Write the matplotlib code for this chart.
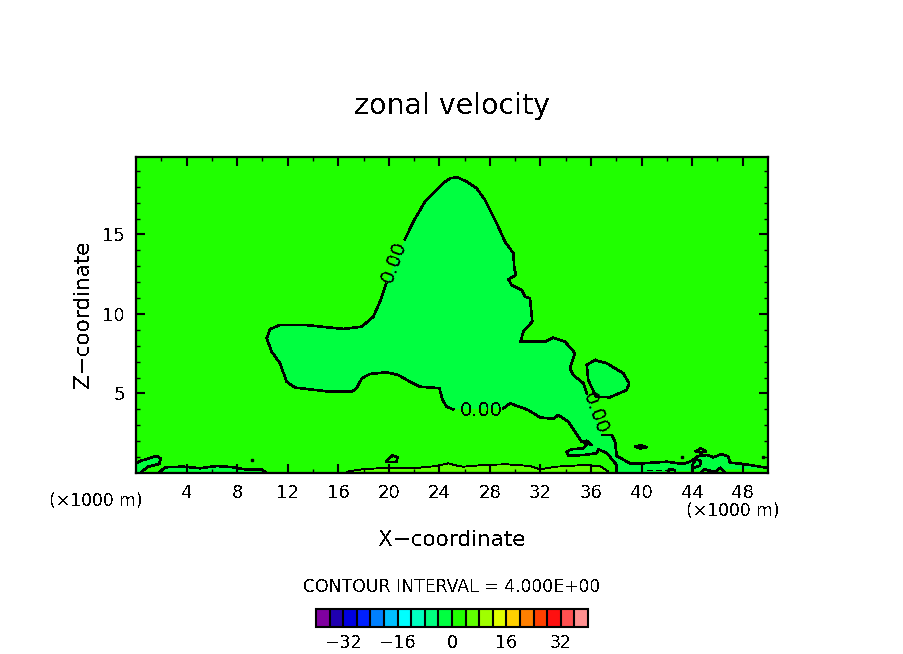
#!/usr/bin/env python3

import numpy as np
import matplotlib
matplotlib.use("Agg")
import matplotlib.pyplot as plt
from matplotlib.cm import ScalarMappable
from matplotlib.colors import BoundaryNorm, ListedColormap

# contour levels and colours of the shaded field
levels = np.arange(-40, 41, 4)
colorbar_ticks = [-32, -16, 0, 16, 32]
colorbar_labels = ['\u221232', '\u221216', '0', '16', '32']
colors = ['#8000a0', '#2000b0', '#0000e0', '#0020ff', '#0080ff', '#00c0ff', '#00ffff',
          '#00ffc0', '#00ff80', '#00ff40', '#20ff00', '#60ff00', '#a0ff00', '#e0ff00',
          '#ffd000', '#ff8000', '#ff4000', '#ff1010', '#ff5050', '#ff9090']

x_ticks = [4, 8, 12, 16, 20, 24, 28, 32, 36, 40, 44, 48]
z_ticks = [5, 10, 15]

# zero contour, broken where the labels sit
upper_x = [21.28, 21.94, 22.86, 24.31, 24.84, 25.42, 26.16, 26.95, 27.61, 28.14, 28.66, 29.19, 29.85, 29.93,
           30.06, 29.46, 29.72, 30.51, 30.78, 31.17, 31.35, 30.64, 30.43, 32.36, 33.02, 33.94, 34.73, 34.34,
           34.60, 35.39, 35.66]
upper_z = [14.70, 15.80, 17.06, 18.22, 18.53, 18.60, 18.32, 17.90, 17.17, 16.33, 15.49, 14.55, 13.82, 12.87,
           12.45, 12.18, 11.82, 11.51, 11.09, 10.99, 9.52, 8.89, 8.26, 8.26, 8.51, 8.26, 7.53, 6.58,
           6.16, 5.64, 5.01]
right_x = [36.92, 37.63, 37.90, 38.03, 39.08, 40.14, 41.98, 43.30, 43.83, 44.49, 45.15, 45.67, 46.34, 46.86,
           46.99, 48.05, 49.90, 50.00]
right_z = [2.39, 2.39, 1.97, 1.07, 0.61, 0.61, 0.71, 0.57, 0.71, 1.07, 1.13, 0.99, 1.19, 1.03,
           0.65, 0.57, 0.33, 0.30]
lower_x = [38.03, 38.03, 37.24, 36.58, 36.44, 35.39, 34.20, 34.07, 34.47, 35.39, 35.66, 35.39, 36.05, 35.66,
           35.25, 34.73, 34.20, 33.41, 33.02, 31.96, 31.04, 29.59, 29.06]
lower_z = [0.00, 0.50, 1.26, 1.49, 1.24, 1.13, 1.09, 1.34, 1.49, 1.55, 1.76, 1.97, 1.76, 2.03,
           1.97, 2.60, 3.23, 3.65, 3.40, 3.50, 3.96, 4.38, 4.07]
left_x = [25.10, 24.58, 24.26, 24.00, 22.47, 21.68, 20.75, 19.83, 18.51, 17.86, 17.46, 17.06, 15.35, 12.58,
          11.92, 11.39, 10.73, 10.34, 10.60, 11.39, 13.37, 16.40, 17.85, 18.78, 19.30, 19.78]
left_z = [4.00, 4.17, 4.59, 5.33, 5.43, 5.74, 6.16, 6.33, 6.23, 5.95, 5.33, 5.11, 5.11, 5.37,
          5.74, 6.90, 7.63, 8.47, 9.04, 9.31, 9.31, 9.06, 9.20, 9.83, 10.77, 11.89]

# closed cell right of the main body
cell_x = [36.31, 35.66, 35.78, 36.39, 37.50, 38.82, 39.02, 38.55, 37.24, 36.31]
cell_z = [7.10, 6.79, 5.85, 4.80, 4.76, 5.22, 5.64, 6.27, 6.90, 7.10]

# low level strips above the ground
corner_x = [0.00, 0.32, 1.63, 1.95, 1.84, 0.97, 0.45, 0.45, 0.00]
corner_z = [0.60, 0.75, 1.07, 0.92, 0.57, 0.40, 0.08, 0.00, 0.00]
strip_x = [1.90, 2.30, 3.74, 5.06, 6.38, 7.70, 8.62, 9.94, 10.20]
strip_z = [0.08, 0.36, 0.40, 0.30, 0.44, 0.36, 0.23, 0.23, 0.08]
band_x = [16.67, 17.85, 19.83, 21.94, 23.79, 24.70, 25.50, 25.90, 27.48, 29.30, 31.17, 31.96, 33.28, 35.39,
          36.70, 37.37]
band_z = [0.08, 0.23, 0.33, 0.30, 0.44, 0.61, 0.44, 0.40, 0.50, 0.55, 0.44, 0.23, 0.40, 0.50,
          0.44, 0.08]

# small closed contours
spot_a_x = [20.0, 20.3, 20.7, 20.6, 19.8, 20.0]
spot_a_z = [0.9, 1.1, 1.0, 0.7, 0.7, 0.9]
spot_b_x = [39.5, 39.9, 40.4, 39.9, 39.5]
spot_b_z = [1.64, 1.75, 1.62, 1.55, 1.64]
spot_c_x = [44.3, 44.7, 45.1, 44.7, 44.3]
spot_c_z = [1.38, 1.55, 1.36, 1.28, 1.38]
loop_x = [44.06, 44.06, 44.30, 44.70, 44.60, 44.20]
loop_z = [0.00, 0.60, 0.85, 0.75, 0.45, 0.35]
ripple_x = [44.75, 45.00, 45.40, 45.90, 46.25, 46.54]
ripple_z = [0.08, 0.23, 0.14, 0.12, 0.33, 0.08]
dash_x = [40.4, 41.9]
dash_z = [0.19, 0.19]
hook_x = [42.1, 42.2, 42.6]
hook_z = [0.05, 0.25, 0.18]
dot_x = [9.2, 43.2, 49.6]
dot_z = [0.8, 0.98, 1.0]

plt.rcParams['font.family'] = 'DejaVu Sans'
plt.rcParams['text.antialiased'] = False

fig = plt.figure(figsize=(9.04, 6.54), dpi=100)
ax = fig.add_axes([136 / 904, 1 - 473 / 654, 632 / 904, 316 / 654])
ax.set_facecolor(colors[10])

body_x = upper_x + right_x + lower_x + left_x
body_z = upper_z + right_z + lower_z + left_z
ax.fill(body_x, body_z, color=colors[9], lw=0, zorder=1)
ax.fill(cell_x, cell_z, color=colors[9], lw=0, zorder=1)
ax.fill(corner_x, corner_z, color=colors[9], lw=0, zorder=1)
ax.fill(strip_x, strip_z, color=colors[9], lw=0, zorder=1)
ax.fill(band_x, band_z, color=colors[11], lw=0, zorder=1)

for xs, zs in [(upper_x, upper_z), (right_x, right_z), (lower_x, lower_z), (left_x[3:], left_z[3:]),
               (cell_x, cell_z), (corner_x[:7], corner_z[:7]), (strip_x, strip_z), (spot_a_x, spot_a_z),
               (spot_b_x, spot_b_z), (spot_c_x, spot_c_z), (loop_x, loop_z), (ripple_x, ripple_z),
               (hook_x, hook_z), (left_x[:4], left_z[:4])]:
    ax.plot(xs, zs, color='k', lw=1.15, antialiased=False, zorder=2)
ax.plot(band_x, band_z, color='k', lw=0.6, antialiased=False, zorder=2)
ax.plot(dash_x, dash_z, color='k', lw=0.7, ls=(0, (6, 4)), antialiased=False, zorder=2)
ax.plot(dot_x, dot_z, ls='', marker='s', ms=1.5, color='k', zorder=2)

# labels on the contour
ax.text(27.3, 3.96, '0.00', fontsize=14, ha='center', va='center', zorder=3)
ax.text(20.4, 13.27, '0.00', fontsize=14, rotation=70, ha='center', va='center', zorder=3)
ax.text(36.37, 3.77, '0.00', fontsize=14, rotation=-70, ha='center', va='center', zorder=3)

ax.set_xlim(0, 50)
ax.set_ylim(0, 19.87)
ax.set_xticks(x_ticks)
ax.set_xticks(np.arange(2, 50, 4), minor=True)
ax.set_yticks(z_ticks)
ax.set_yticks(np.arange(1, 20), minor=True)
ax.tick_params(which='major', direction='in', length=6.5, width=1.5, top=True, right=True, labelsize=13, pad=8)
ax.tick_params(which='minor', direction='in', length=3, width=1, top=True, right=True)
for spine in ax.spines.values():
    spine.set_linewidth(1.6)
    spine.set_zorder(5)

fig.text(452 / 904, 1 - 106 / 654, 'zonal velocity', fontsize=20.5, ha='center', va='center')
fig.text(452 / 904, 1 - 540 / 654, 'X\u2212coordinate', fontsize=15.5, ha='center', va='center')
fig.text(83 / 904, 1 - 314 / 654, 'Z\u2212coordinate', fontsize=15.5, rotation=90, ha='center', va='center')
fig.text(96 / 904, 1 - 501 / 654, '(\u00d71000 m)', fontsize=12.3, ha='center', va='center')
fig.text(733 / 904, 1 - 511 / 654, '(\u00d71000 m)', fontsize=12.3, ha='center', va='center')
fig.text(452 / 904, 1 - 587 / 654, 'CONTOUR INTERVAL = 4.000E+00', fontsize=12.4, ha='center', va='center')

cax = fig.add_axes([316 / 904, 1 - 627 / 654, 272 / 904, 18 / 654])
norm = BoundaryNorm(levels, len(colors))
cbar = fig.colorbar(ScalarMappable(norm=norm, cmap=ListedColormap(colors)), cax=cax, orientation='horizontal',
                    ticks=colorbar_ticks, drawedges=True, spacing='uniform')
cbar.ax.set_xticklabels(colorbar_labels)
cbar.ax.tick_params(length=0, labelsize=12.5, pad=5)
cbar.ax.minorticks_off()
cbar.dividers.set_color('k')
cbar.dividers.set_linewidth(1.5)
cbar.outline.set_linewidth(1.5)

plt.savefig('out.png', dpi=100)
plt.close()
